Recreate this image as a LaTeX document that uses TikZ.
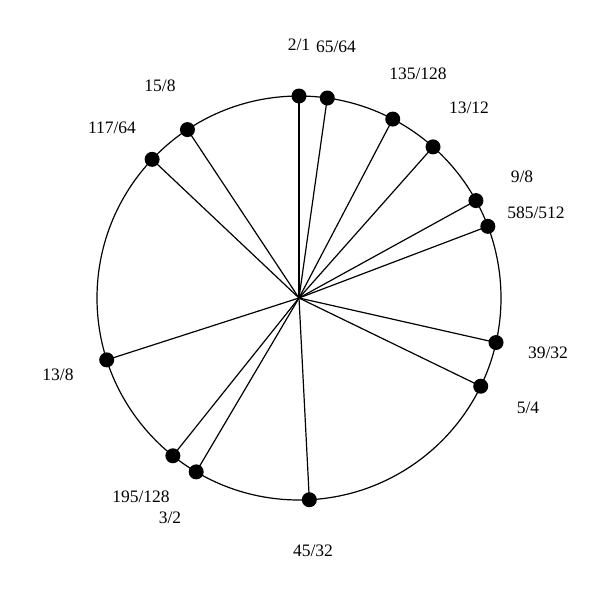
\documentclass[tikz,border=0pt]{standalone}
\usepackage{fontspec}
\setmainfont{Liberation Serif}
\usetikzlibrary{calc}
\begin{document}
\begin{tikzpicture}[x=1pt,y=-1pt,
  lbl/.style={font=\fontsize{17.5}{19}\selectfont, inner sep=0pt},
  dot/.style={circle, fill=black, minimum size=15pt, inner sep=0pt},
  spoke/.style={line width=1.2pt}]
\useasboundingbox (0,0) rectangle (600,600);
\coordinate (c) at (299,298);
\draw[line width=1.2pt] (c) circle[radius=202];
\foreach \name/\ang in {a/0, b/8.05, d/27.65, e/41.57, f/61.17, g/69.22, h/102.74, i/115.9, j/177.07, k/210.59, l/218.64, m/252.16, n/313.35, o/326.48}{
  \coordinate (\name) at ($(c)+({202*sin(\ang)},{-202*cos(\ang)})$);
  \draw[spoke] (c) -- (\name);
  \node[dot] (\name d) at (\name) {};
}
\node[lbl] (ta) at (299,45) {2/1};
\node[lbl] (tb) at (336,47) {65/64};
\node[lbl] (td) at (418,74) {135/128};
\node[lbl] (te) at (469,108) {13/12};
\node[lbl] (tf) at (522,177) {9/8};
\node[lbl] (tg) at (536,213) {585/512};
\node[lbl] (th) at (548,353) {39/32};
\node[lbl] (ti) at (528,408) {5/4};
\node[lbl] (tj) at (313,551) {45/32};
\node[lbl] (tk) at (170,518) {3/2};
\node[lbl] (tl) at (141,497) {195/128};
\node[lbl] (tm) at (58,375) {13/8};
\node[lbl] (tn) at (112,128) {117/64};
\node[lbl] (to) at (160,86) {15/8};
\end{tikzpicture}
\end{document}
